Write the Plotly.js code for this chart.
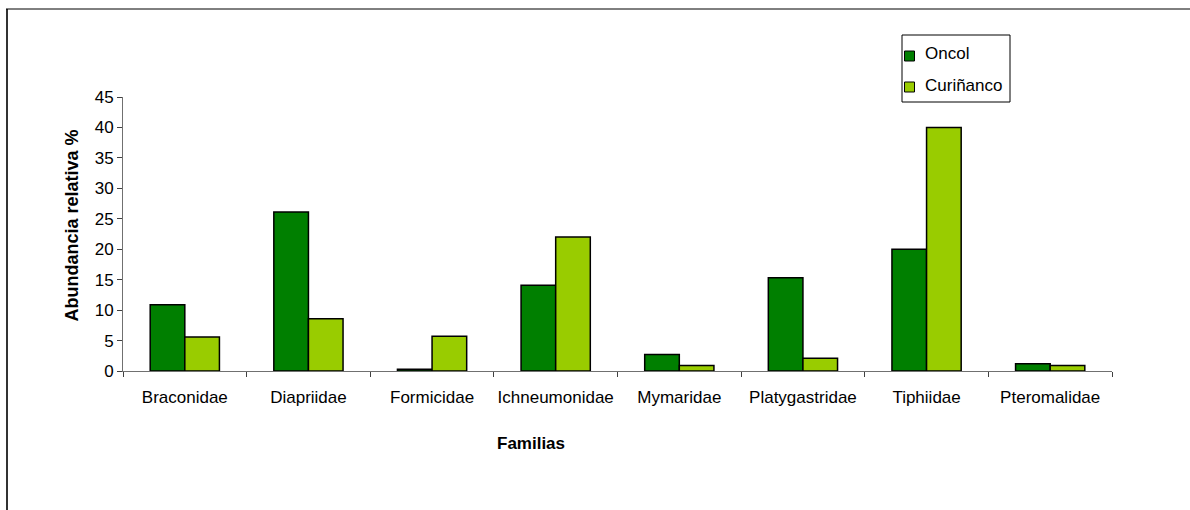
<!DOCTYPE html>
<html>
<head>
<meta charset="utf-8">
<script src="https://cdn.plot.ly/plotly-3.0.1.min.js"></script>
<style>
  html, body { margin: 0; padding: 0; background: #fff; }
  #chart { width: 1190px; height: 510px; }
</style>
</head>
<body>
<div id="chart"></div>
<script>
// Hymenoptera families and relative abundance (%) at each site
const familias = ["Braconidae", "Diapriidae", "Formicidae", "Ichneumonidae",
                  "Mymaridae", "Platygastridae", "Tiphiidae", "Pteromalidae"];
const oncol     = [10.9, 26.1, 0.3, 14.1, 2.7, 15.3, 20.0, 1.2];
const curinanco = [5.6, 8.6, 5.7, 22.0, 0.9, 2.1, 40.0, 0.9];
const sitios    = ["Oncol", "Curiñanco"];
const colores   = ["#007F00", "#99CC00"];
const yTicks    = [0, 5, 10, 15, 20, 25, 30, 35, 40, 45];

const FONT = "Arial, 'Liberation Sans', sans-serif";

// plot area in page pixels, used to place the frame and the legend
const PL = 123, PR = 1112, PT = 97, PB = 371;
const px = v => (v - PL) / (PR - PL);
const py = v => (PB - v) / (PB - PT);

const traces = [oncol, curinanco].map((vals, i) => ({
  type: "bar", name: sitios[i], x: familias, y: vals,
  showlegend: false,
  marker: { color: colores[i], line: { color: "#000", width: 1.5 } }
}));

// compact boxed legend: square swatch followed by the site name
const legendShapes = [
  { type: "rect", xref: "paper", yref: "paper",
    x0: px(902), x1: px(1010), y0: py(35), y1: py(102),
    line: { color: "#000", width: 1 }, fillcolor: "#fff" }
];
const legendLabels = [];
sitios.forEach((s, i) => {
  const cy = 56 + i * 31;
  legendShapes.push({ type: "rect", xref: "paper", yref: "paper",
    x0: px(904.5), x1: px(914.5), y0: py(cy - 5), y1: py(cy + 5),
    line: { color: "#000", width: 1 }, fillcolor: colores[i] });
  legendLabels.push({ text: s, xref: "paper", yref: "paper",
    x: px(923), y: py(cy - 2), xanchor: "left", yanchor: "middle",
    showarrow: false, font: { family: FONT, size: 17, color: "#000" } });
});

const layout = {
  width: 1190, height: 510,
  margin: { l: PL, r: 1190 - PR, t: PT, b: 510 - PB },
  paper_bgcolor: "#fff", plot_bgcolor: "#fff",
  font: { family: FONT, size: 17, color: "#000" },
  barmode: "group",
  bargap: 0.44, bargroupgap: 0,
  showlegend: false,
  xaxis: {
    type: "category",
    showline: true, linecolor: "#707070", linewidth: 1,
    ticks: "outside", tickson: "boundaries", ticklen: 5, tickcolor: "#404040",
    tickangle: 0, ticklabelstandoff: 11,
    showgrid: false, zeroline: false,
    tickfont: { family: FONT, size: 17, color: "#000" }
  },
  yaxis: {
    range: [0, 45], tickvals: yTicks,
    showline: true, linecolor: "#707070", linewidth: 1,
    ticks: "outside", ticklen: 5, tickcolor: "#404040",
    showgrid: false, zeroline: false,
    tickfont: { family: FONT, size: 17, color: "#000" }
  },
  annotations: [
    {
      text: "<b>Abundancia relativa %</b>", xref: "paper", yref: "paper",
      x: px(71), y: py(225.5), textangle: -90, showarrow: false,
      xanchor: "center", yanchor: "middle",
      font: { family: FONT, size: 18, color: "#000" }
    },
    {
      text: "<b>Familias</b>", xref: "paper", yref: "paper",
      x: px(530.5), y: py(443), showarrow: false,
      xanchor: "center", yanchor: "middle",
      font: { family: FONT, size: 17, color: "#000" }
    }
  ].concat(legendLabels),
  shapes: [
    // chart-area frame (left and top edges inside the page)
    { type: "line", xref: "paper", yref: "paper",
      x0: px(7), x1: px(7), y0: py(9), y1: py(530),
      line: { color: "#333", width: 2 } },
    { type: "line", xref: "paper", yref: "paper",
      x0: px(6), x1: px(1200), y0: py(9), y1: py(9),
      line: { color: "#000", width: 1 } }
  ].concat(legendShapes)
};

Plotly.newPlot("chart", traces, layout, { staticPlot: true, displayModeBar: false });
</script>
</body>
</html>
